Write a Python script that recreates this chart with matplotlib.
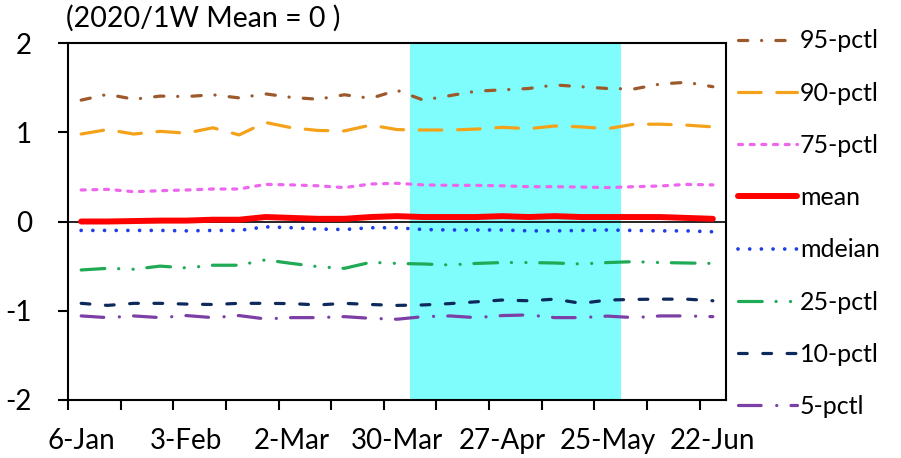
from matplotlib import pyplot
import pandas as pd

pyplot.rcParams['font.family'] = ['Lato', 'DejaVu Sans']
pyplot.rcParams['lines.scale_dashes'] = False

# weekly categories, 2020
weeks = pd.date_range('2020-01-06', periods=25, freq='7D')
week_labels = [f"{d.day}-{d.strftime('%b')}" for d in weeks]

# 1 = week shaded in cyan
shade = [0] * 13 + [1] * 8 + [0] * 4

p95 = [1.36, 1.425, 1.37, 1.405, 1.40, 1.42, 1.385, 1.43, 1.39, 1.37, 1.42, 1.38, 1.47,
       1.36, 1.41, 1.46, 1.475, 1.49, 1.53, 1.51, 1.49, 1.485, 1.54, 1.56, 1.51]
p90 = [0.98, 1.03, 0.98, 1.01, 0.99, 1.05, 0.97, 1.11, 1.05, 1.02, 1.015, 1.08, 1.03,
       1.025, 1.025, 1.035, 1.055, 1.04, 1.07, 1.06, 1.04, 1.09, 1.09, 1.08, 1.06]
p75 = [0.353, 0.36, 0.334, 0.345, 0.353, 0.364, 0.364, 0.416, 0.41, 0.40, 0.38, 0.42, 0.428,
       0.41, 0.405, 0.405, 0.40, 0.39, 0.39, 0.386, 0.38, 0.39, 0.398, 0.416, 0.41]
mean = [0.0, 0.0, 0.005, 0.01, 0.01, 0.02, 0.02, 0.05, 0.04, 0.03, 0.03, 0.05, 0.06,
        0.05, 0.05, 0.05, 0.06, 0.05, 0.06, 0.05, 0.05, 0.05, 0.05, 0.04, 0.03]
median = [-0.10, -0.10, -0.10, -0.10, -0.105, -0.10, -0.10, -0.06, -0.07, -0.085, -0.09, -0.07, -0.07,
          -0.09, -0.095, -0.095, -0.095, -0.105, -0.105, -0.10, -0.095, -0.10, -0.105, -0.105, -0.115]
p25 = [-0.543, -0.525, -0.535, -0.50, -0.52, -0.49, -0.49, -0.43, -0.47, -0.506, -0.525, -0.457, -0.47,
       -0.476, -0.487, -0.47, -0.46, -0.46, -0.465, -0.476, -0.46, -0.45, -0.46, -0.465, -0.47]
p10 = [-0.917, -0.94, -0.917, -0.917, -0.925, -0.93, -0.917, -0.917, -0.92, -0.935, -0.917, -0.93, -0.94,
       -0.935, -0.92, -0.90, -0.88, -0.888, -0.87, -0.917, -0.88, -0.873, -0.87, -0.87, -0.888]
p5 = [-1.058, -1.077, -1.058, -1.077, -1.054, -1.077, -1.054, -1.092, -1.077, -1.077, -1.066, -1.085, -1.095,
      -1.066, -1.058, -1.077, -1.054, -1.047, -1.077, -1.077, -1.06, -1.077, -1.058, -1.058, -1.066]

fig = pyplot.figure(figsize=(9.01, 4.58), dpi=100)
ax = fig.add_axes([68 / 901, 1 - 400 / 458, (726 - 68) / 901, (400 - 43) / 458])

x = list(range(len(weeks)))

# shaded weeks as full-height bars
ax.bar(x, [4 * s for s in shade], bottom=-2, width=1.0, color='#7ffcfc', zorder=0)
ax.axhline(0, color='black', lw=1.2, zorder=1)

series = [
    (p95, '95-pctl', '#9c5a2c', 2.3, (0, (6.7, 9.9, 0.1, 10.2))),
    (p90, '90-pctl', '#f5a21b', 2.3, (0, (16.3, 11.3))),
    (p75, '75-pctl', '#ee66ee', 2.3, (0, (2.9, 5.5))),
    (mean, 'mean', '#ff0000', 4.3, '-'),
    (median, 'mdeian', '#1f3fe6', 2.7, (0, (0.01, 8.4))),
    (p25, '25-pctl', '#1faa55', 2.3, (0, (17.1, 9.9, 0.1, 10.3, 0.1, 9.9))),
    (p10, '10-pctl', '#0e2a5c', 2.3, (0, (6.3, 11.2))),
    (p5, '5-pctl', '#7b3fa6', 2.3, (0, (16.3, 11.2, 0.1, 10.2))),
]
for vals, name, col, lw, ls in series:
    ax.plot(x, vals, color=col, lw=lw, linestyle=ls, label=name,
            dash_capstyle='round', solid_capstyle='round', zorder=3)

ax.set_xlim(-0.5, len(weeks) - 0.5)
ax.set_ylim(-2, 2)
ax.set_yticks([-2, -1, 0, 1, 2])
ax.set_yticklabels(['-2', '-1', '0', '1', '2'])
ax.tick_params(axis='y', labelsize=20, length=7, width=1.5, pad=19)

ax.set_xticks(x[::4])
ax.set_xticklabels(week_labels[::4])
ax.set_xticks([i - 0.5 for i in x[::2]], minor=True)
ax.tick_params(axis='x', which='major', labelsize=20, length=0, pad=20)
ax.tick_params(axis='x', which='minor', length=7, width=1.5)

for sp in ax.spines.values():
    sp.set_linewidth(1.5)

ax.legend(loc='center left', bbox_to_anchor=(1.018, 0.494), frameon=False,
          fontsize=18, borderpad=0, borderaxespad=0, handlelength=2.36,
          handletextpad=0.12, labelspacing=1.17)

fig.text(66 / 901, 1 - 18 / 458, '(2020/1W Mean = 0 )', fontsize=20.5, va='center', ha='left')

fig.savefig('out.png', dpi=100)
